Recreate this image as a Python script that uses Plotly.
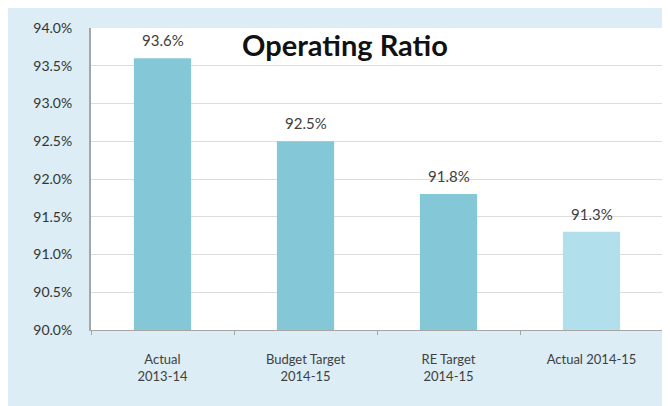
import plotly.graph_objects as go

categories = ["Actual<br>2013-14", "Budget Target<br>2014-15", "RE Target<br>2014-15", "Actual 2014-15"]
values = [93.6, 92.5, 91.8, 91.3]
labels = ["93.6%", "92.5%", "91.8%", "91.3%"]
y_ticks = [90.0, 90.5, 91.0, 91.5, 92.0, 92.5, 93.0, 93.5, 94.0]

colors = ["#84c8d8", "#84c8d8", "#84c8d8", "#b2dfec"]

FONT = "Lato, Open Sans, sans-serif"

fig = go.Figure()
fig.add_trace(go.Bar(
    x=categories, y=values, width=0.4,
    marker=dict(color=colors, line=dict(width=0)),
    hoverinfo="skip",
))

for c, v, t in zip(categories, values, labels):
    fig.add_annotation(x=c, y=v, text=t, showarrow=False, yshift=18,
                       font=dict(family=FONT, size=15, color="#404040"))

fig.add_annotation(xref="paper", yref="paper", x=0.444, y=0.944, yanchor="middle",
                   text="<b>Operating Ratio</b>", showarrow=False,
                   font=dict(family=FONT, size=29, color="#111111"))

# white plot area
fig.add_shape(type="rect", xref="paper", yref="paper", x0=0, x1=1, y0=0, y1=1,
              fillcolor="#ffffff", line=dict(width=0), layer="below")

fig.update_layout(
    width=670, height=406,
    margin=dict(l=83, r=15, t=20, b=84),
    paper_bgcolor="#dcedf5",
    plot_bgcolor="#ffffff",
    showlegend=False,
    font=dict(family=FONT, size=13, color="#404040"),
    xaxis=dict(showline=True, linecolor="#a6a6a6", linewidth=1, ticks="outside", tickson="boundaries",
               ticklen=4, tickcolor="#a6a6a6", tickfont=dict(size=13, color="#404040"),
               showgrid=False, ticklabelstandoff=17),
    yaxis=dict(range=[90.0, 94.0], tickvals=y_ticks, ticktext=[f"{v:.1f}%" for v in y_ticks],
               showline=True, linecolor="#a6a6a6", linewidth=2, showgrid=True, gridcolor="#dcdcdc",
               gridwidth=1, ticks="", tickfont=dict(size=14, color="#333333"), zeroline=False,
               ticklabelstandoff=14),
)

fig.write_html("out.html")
